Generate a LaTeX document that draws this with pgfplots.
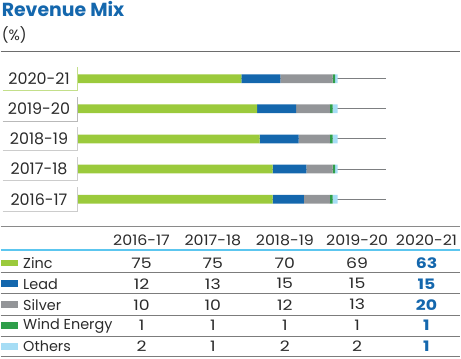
\documentclass[border=0pt]{standalone}
\usepackage{pgfplots}
\pgfplotsset{compat=1.18}
\usepackage{fontspec}
\setmainfont{Poppins}
\definecolor{zinc}{HTML}{9BCA3C}
\definecolor{lead}{HTML}{1467AD}
\definecolor{silver}{HTML}{939598}
\definecolor{wind}{HTML}{2E9E4A}
\definecolor{others}{HTML}{A6DDF5}
\definecolor{titleblue}{HTML}{1467AD}
\definecolor{txt}{HTML}{2B2B2B}
\definecolor{rule}{HTML}{6D6D6D}
\definecolor{cyanrule}{HTML}{5CC6EF}
\newcommand{\wide}[1]{\scalebox{1.2}[1]{#1}}
\newcommand{\hwide}[1]{\scalebox{1.1}[1]{#1}}
\begin{document}
\begin{tikzpicture}
\begin{scope}[x=1bp,y=1bp]
\path[use as bounding box] (0,0) rectangle (461,359);
% title
\node[anchor=west,inner sep=0,text=titleblue,font=\fontsize{19}{19}\selectfont\bfseries] at (1,350) {Revenue Mix};
\node[anchor=west,inner sep=0,text=txt,font=\fontsize{15}{15}\selectfont] at (1,324) {(\%)};
\draw[rule,line width=1bp] (0,307.7) -- (461,307.7);
\end{scope}
% bars
\begin{axis}[
  at={(77bp,144.2bp)}, anchor=south west,
  scale only axis, width=309bp, height=151bp,
  xmin=0, xmax=118.4, ymin=-0.5, ymax=4.5,
  xbar stacked, bar width=8.7bp,
  axis line style={draw=none}, tick style={draw=none},
  xticklabels={}, yticklabels={},
  ytick={0,1,2,3,4}, xtick=\empty,
  ymajorgrids, grid style={draw=silver!85!black,line width=0.9bp},
]
\addplot[fill=zinc,draw=none] coordinates {(75,0) (75,1) (70,2) (69,3) (63,4)};
\addplot[fill=lead,draw=none] coordinates {(12,0) (13,1) (15,2) (15,3) (15,4)};
\addplot[fill=silver,draw=none] coordinates {(10,0) (10,1) (12,2) (13,3) (20,4)};
\addplot[fill=wind,draw=none] coordinates {(1,0) (1,1) (1,2) (1,3) (1,4)};
\addplot[fill=others,draw=none] coordinates {(2,0) (1,1) (2,2) (2,3) (1,4)};
\end{axis}
\begin{scope}[x=1bp,y=1bp]
% year label boxes
\foreach \yy/\lab/\col in {280/2020-21/zinc!60, 249.7/2019-20/gray!55, 219.7/2018-19/gray!40, 189.7/2017-18/gray!40, 159.3/2016-17/gray!40}{
  \draw[\col,line width=0.9bp] (2,\yy-12) -- (77,\yy-12) -- (77,\yy+12);
  \node[text=txt,inner sep=0,font=\fontsize{16}{16}\selectfont] at (38.5,\yy) {\lab};
}
% table
\draw[rule!80,line width=0.8bp] (0,131.7) -- (461,131.7);
\draw[cyanrule,line width=1.2bp] (0,108.3) -- (461,108.3);
\foreach \yl in {86.3,65,43,21.7,1.3}{\draw[rule!90,line width=0.8bp] (0,\yl) -- (461,\yl);}
\foreach \xc/\lab in {141.3/2016-17,212.8/2017-18,285/2018-19,357.5/2019-20,427/2020-21}{
  \node[text=txt,inner sep=0,font=\fontsize{14.5}{14.5}\selectfont] at (\xc,118.3) {\hwide{\lab}};
}
\foreach \yc/\col/\name/\a/\b/\c/\d/\e in {
  95/zinc/Zinc/75/75/70/69/63,
  74.5/lead/Lead/12/13/15/15/15,
  53.5/silver/Silver/10/10/12/13/20,
  32.5/wind/Wind Energy/1/1/1/1/1,
  11.5/others/Others/2/1/2/2/1}{
  \fill[\col] (0.5,\yc-3) rectangle (17,\yc+3.5);
  \node[anchor=west,inner sep=0,text=txt,font=\fontsize{14.5}{14.5}\selectfont] at (22.5,\yc) {\name};
  \node[text=txt,inner sep=0,font=\fontsize{14.5}{14.5}\selectfont] at (141.3,\yc) {\wide{\a}};
  \node[text=txt,inner sep=0,font=\fontsize{14.5}{14.5}\selectfont] at (212.8,\yc) {\wide{\b}};
  \node[text=txt,inner sep=0,font=\fontsize{14.5}{14.5}\selectfont] at (285,\yc) {\wide{\c}};
  \node[text=txt,inner sep=0,font=\fontsize{14.5}{14.5}\selectfont] at (357.5,\yc) {\wide{\d}};
  \node[text=titleblue,inner sep=0,font=\fontsize{14.5}{14.5}\selectfont\bfseries] at (427,\yc) {\wide{\e}};
}
\end{scope}
\end{tikzpicture}
\end{document}
